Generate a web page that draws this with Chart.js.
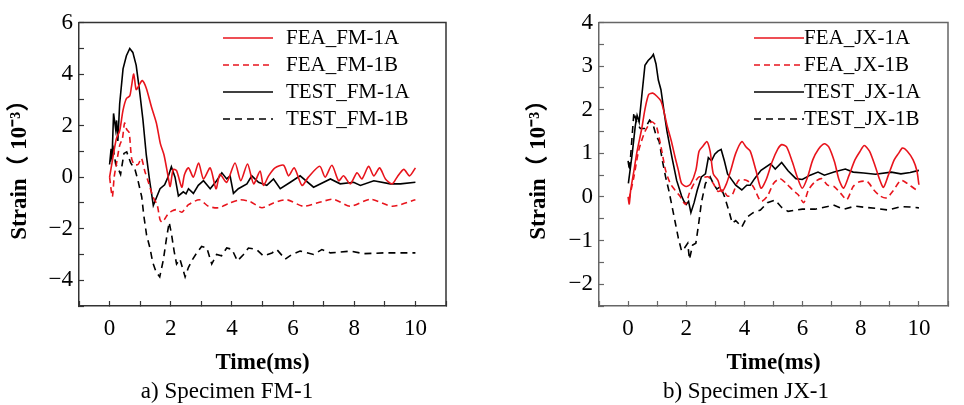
<!DOCTYPE html>
<html lang="en">
<head>
  <meta charset="UTF-8">
  <title>Strain time histories FM-1 / JX-1</title>
  <script src="https://cdn.jsdelivr.net/npm/chart.js"></script>
  <style>
    body {
      margin: 0;
      background: #ffffff;
      font-family: 'Liberation Serif', serif;
    }
    .panel {
      position: absolute;
      top: 0;
      width: 482px;
      height: 405px;
    }
    .caption {
      position: absolute;
      top: 377px;
      width: 220px;
      text-align: center;
      font-size: 23px;
      line-height: 27px;
      color: #000;
    }
  </style>
</head>
<body>
  <canvas id="chartFM" class="panel" style="left:0" width="482" height="405"></canvas>
  <canvas id="chartJX" class="panel" style="left:482px" width="482" height="405"></canvas>
  <div class="caption" style="left:117px">a) Specimen FM-1</div>
  <div class="caption" style="left:636px">b) Specimen JX-1</div>

  <script>
    // ---- Specimen FM-1 (time in ms, strain in 10^-3) ----
    const labelsFM = ['FEA_FM-1A', 'FEA_FM-1B', 'TEST_FM-1A', 'TEST_FM-1B'];

    const tFeaFM1A = [0, 0.1, 0.22, 0.33, 0.44, 0.55, 0.66, 0.71, 0.79, 0.87, 0.98, 1.07, 1.2, 1.37, 1.53, 1.66, 1.78, 1.91, 1.98, 2.08, 2.19, 2.36, 2.45, 2.58, 2.74, 2.91, 3.07, 3.29, 3.48, 3.61, 3.83, 4.1, 4.29, 4.51, 4.71, 4.92, 5.03, 5.2, 5.41, 5.69, 5.85, 6.04, 6.29, 6.5, 6.87, 7.05, 7.27, 7.49, 7.65, 7.87, 8.09, 8.25, 8.47, 8.64, 8.83, 9.02, 9.24, 9.4, 9.62, 9.81, 10];
    const vFeaFM1A = [0, 0.7, 1.48, 1.8, 2.6, 3.05, 3.15, 3.47, 4.0, 3.4, 3.6, 3.75, 3.45, 2.72, 2.1, 1.3, 0.86, 0.05, -0.36, 0.3, 0.25, -0.39, 0.1, 0.36, 0, 0.55, -0.07, 0.36, -0.45, 0.11, -0.2, 0.55, -0.14, 0.51, -0.26, 0.24, -0.32, 0.05, 0.36, 0.46, 0.05, 0.36, -0.32, 0, 0.42, 0, 0.46, -0.14, 0.05, -0.26, 0.17, -0.07, 0.42, 0.05, 0.36, -0.07, -0.26, 0, 0.3, 0.05, 0.36];

    const tFeaFM1B = [0, 0.09, 0.15, 0.22, 0.33, 0.42, 0.49, 0.56, 0.64, 0.72, 0.81, 0.93, 1.04, 1.15, 1.27, 1.42, 1.56, 1.65, 1.72, 1.8, 1.9, 2.03, 2.19, 2.36, 2.58, 2.94, 3.23, 3.56, 3.94, 4.27, 4.6, 4.98, 5.36, 5.8, 6.34, 6.94, 7.33, 7.87, 8.53, 9.24, 10];
    const vFeaFM1B = [0, -0.76, 0, 0.49, 1.23, 1.5, 2.1, 1.85, 1.73, 0.73, 0.49, 0.49, 0.73, 0.24, -0.2, -0.76, -1.1, -1.65, -1.75, -1.63, -1.45, -1.32, -1.26, -1.36, -1.07, -0.88, -1.13, -1.19, -1.0, -0.88, -0.95, -1.19, -1.0, -0.88, -1.13, -0.95, -0.86, -1.13, -0.86, -1.13, -0.88];

    const tTestFM1A = [0, 0.05, 0.08, 0.13, 0.2, 0.23, 0.27, 0.33, 0.44, 0.55, 0.66, 0.76, 0.87, 0.98, 1.09, 1.2, 1.31, 1.43, 1.53, 1.65, 1.8, 1.91, 2.02, 2.14, 2.25, 2.41, 2.5, 2.58, 2.74, 2.9, 3.07, 3.29, 3.5, 3.67, 3.83, 3.94, 4.05, 4.21, 4.49, 4.65, 4.87, 5.14, 5.36, 5.58, 5.91, 6.23, 6.67, 7.22, 7.54, 7.98, 8.2, 8.64, 9.18, 9.51, 10];
    const vTestFM1A = [0.49, 1.1, 0.7, 2.47, 1.85, 2.2, 1.4, 2.85, 4.2, 4.71, 4.99, 4.84, 4.34, 3.35, 2.23, 0.86, -0.14, -1.1, -0.8, -0.45, -0.3, 0, 0.4, 0, -0.73, -0.57, -0.65, -0.45, -0.63, -0.32, -0.14, -0.45, -0.14, 0.17, -0.07, 0.05, -0.63, -0.45, -0.26, 0.05, -0.2, -0.32, -0.07, -0.45, -0.2, 0.05, -0.39, -0.07, -0.26, -0.2, -0.32, -0.14, -0.26, -0.26, -0.2];

    const tTestFM1B = [0.03, 0.12, 0.2, 0.27, 0.36, 0.47, 0.56, 0.69, 0.83, 0.93, 1.05, 1.12, 1.21, 1.32, 1.41, 1.52, 1.64, 1.76, 1.87, 1.95, 2.03, 2.11, 2.19, 2.3, 2.47, 2.58, 2.72, 2.85, 3.01, 3.18, 3.34, 3.5, 3.66, 3.83, 4.0, 4.18, 4.38, 4.54, 4.81, 5.03, 5.31, 5.47, 5.74, 5.96, 6.23, 6.67, 6.94, 7.22, 7.87, 8.31, 8.96, 9.51, 10];
    const vTestFM1B = [0.6, 1.1, 0.5, 0.36, 0.11, 0.92, 0.98, 0.55, 0.3, -0.14, -0.76, -1.5, -2.25, -2.75, -3.3, -3.68, -3.87, -3.2, -2.3, -1.75, -2.25, -2.87, -3.37, -3.18, -3.87, -3.5, -3.18, -2.94, -2.69, -2.75, -3.37, -3.0, -3.05, -2.75, -2.8, -3.25, -3.0, -2.75, -2.81, -3.06, -2.94, -2.81, -3.18, -3.0, -2.87, -3.0, -2.81, -2.94, -2.87, -2.97, -2.94, -2.94, -2.94];

    // ---- Specimen JX-1 ----
    const labelsJX = ['FEA_JX-1A', 'FEA_JX-1B', 'TEST_JX-1A', 'TEST_JX-1B'];

    const tFeaJX1A = [0, 0.04, 0.09, 0.2, 0.31, 0.47, 0.58, 0.71, 0.85, 0.99, 1.13, 1.24, 1.34, 1.48, 1.62, 1.73, 1.84, 2.0, 2.15, 2.33, 2.44, 2.57, 2.71, 2.82, 2.93, 3.09, 3.22, 3.38, 3.53, 3.7, 3.91, 4.05, 4.2, 4.4, 4.57, 4.75, 4.95, 5.15, 5.28, 5.45, 5.65, 5.82, 5.99, 6.17, 6.35, 6.55, 6.75, 6.9, 7.1, 7.25, 7.41, 7.6, 7.8, 7.98, 8.12, 8.3, 8.5, 8.65, 8.78, 8.95, 9.15, 9.3, 9.43, 9.6, 9.8, 9.93, 10];
    const vFeaJX1A = [0, -0.16, 0.16, 0.6, 1.05, 1.57, 2.01, 2.35, 2.38, 2.31, 2.2, 1.94, 1.64, 1.3, 0.9, 0.61, 0.31, 0.24, 0.3, 0.61, 1.05, 1.16, 1.27, 1.05, 0.53, 0.38, 0.12, 0.3, 0.61, 1.0, 1.27, 1.15, 1.05, 0.6, 0.2, 0.4, 0.8, 1.1, 1.2, 1.15, 0.8, 0.45, 0.2, 0.45, 0.85, 1.1, 1.22, 1.15, 0.8, 0.4, 0.2, 0.5, 0.85, 1.05, 1.18, 1.05, 0.7, 0.4, 0.22, 0.5, 0.85, 1.0, 1.12, 1.05, 0.85, 0.6, 0.28];

    const tFeaJX1B = [0.03, 0.2, 0.36, 0.58, 0.8, 0.96, 1.07, 1.18, 1.29, 1.45, 1.62, 1.78, 1.97, 2.11, 2.27, 2.44, 2.6, 2.76, 2.93, 3.09, 3.26, 3.42, 3.58, 3.8, 4.08, 4.3, 4.57, 4.79, 5.0, 5.22, 5.44, 5.66, 5.85, 6.04, 6.2, 6.43, 6.65, 6.86, 7.08, 7.3, 7.52, 7.74, 7.96, 8.23, 8.45, 8.67, 8.89, 9.1, 9.38, 9.6, 9.92, 10];
    const vFeaJX1B = [-0.06, 0.46, 1.05, 1.5, 1.72, 1.64, 1.35, 0.98, 0.61, 0.31, 0.15, 0.02, -0.17, 0.09, 0.31, 0.46, 0.45, 0.46, 0.31, 0.13, 0.16, 0.02, 0.05, 0.38, 0.38, 0.24, -0.1, 0.02, 0.31, 0.42, 0.31, 0.16, 0.05, -0.13, 0.16, 0.35, 0.42, 0.27, 0.24, 0.09, -0.06, 0.24, 0.35, 0.35, 0.16, 0.02, -0.02, 0.13, 0.38, 0.31, 0.16, 0.18];

    const tTestJX1A = [0.01, 0.14, 0.25, 0.31, 0.38, 0.47, 0.58, 0.69, 0.8, 0.87, 0.96, 1.04, 1.13, 1.24, 1.34, 1.51, 1.67, 1.84, 1.92, 2.0, 2.08, 2.16, 2.27, 2.38, 2.52, 2.66, 2.76, 2.87, 2.98, 3.09, 3.2, 3.31, 3.42, 3.58, 3.7, 3.91, 4.08, 4.2, 4.35, 4.57, 4.9, 5.06, 5.28, 5.5, 5.77, 5.99, 6.26, 6.53, 6.75, 7.08, 7.47, 7.74, 8.1, 8.5, 9.05, 9.38, 9.7, 10];
    const vTestJX1A = [0.31, 0.98, 1.64, 1.87, 1.72, 2.31, 3.02, 3.13, 3.2, 3.27, 3.05, 2.68, 2.46, 1.94, 1.5, 0.9, 0.38, 0.02, -0.1, -0.17, -0.1, -0.36, -0.13, 0.16, 0.46, 0.53, 0.9, 0.83, 0.98, 1.05, 1.09, 0.83, 0.53, 0.38, 0.27, 0.16, 0.27, 0.27, 0.42, 0.61, 0.76, 0.64, 0.79, 0.6, 0.42, 0.4, 0.5, 0.57, 0.5, 0.57, 0.64, 0.57, 0.55, 0.52, 0.57, 0.53, 0.56, 0.61];

    const tTestJX1B = [0, 0.05, 0.2, 0.3, 0.42, 0.58, 0.74, 0.85, 0.96, 1.07, 1.18, 1.29, 1.4, 1.51, 1.62, 1.73, 1.84, 1.94, 2.05, 2.11, 2.22, 2.33, 2.42, 2.52, 2.66, 2.82, 2.93, 3.05, 3.18, 3.31, 3.48, 3.58, 3.7, 3.91, 4.08, 4.3, 4.55, 4.79, 5.06, 5.28, 5.5, 5.99, 6.43, 6.86, 7.05, 7.41, 7.81, 8.17, 8.5, 8.94, 9.38, 9.7, 10];
    const vTestJX1B = [0.83, 0.6, 1.94, 1.7, 1.57, 1.57, 1.76, 1.68, 1.42, 1.27, 0.83, 0.46, 0.15, -0.21, -0.58, -0.95, -1.24, -1.17, -1.06, -1.43, -1.1, -1.06, -0.65, -0.13, 0.31, 0.46, 0.31, 0.18, 0.24, 0.02, -0.35, -0.6, -0.54, -0.69, -0.47, -0.36, -0.3, -0.13, -0.07, -0.24, -0.33, -0.28, -0.28, -0.22, -0.18, -0.28, -0.21, -0.24, -0.26, -0.3, -0.22, -0.23, -0.25];

    const RED = '#e8141c';
    const BLACK = '#000000';
    const SERIF = "'Liberation Serif', 'Noto Sans CJK SC', serif";

    function pts(t, v) {
      return t.map((x, i) => ({ x: x, y: v[i] }));
    }

    function series(label, t, v, color, dash, tension) {
      return {
        label: label,
        data: pts(t, v),
        borderColor: color,
        backgroundColor: color,
        borderWidth: 1.6,
        borderDash: dash,
        pointRadius: 0,
        tension: tension,
        fill: false
      };
    }

    function fmt(v) {
      return v < 0 ? '\u2212' + Math.abs(v) : String(v);
    }

    // top + right frame lines and an in-plot legend
    const frameLegend = {
      id: 'frameLegend',
      afterDraw(chart, args, o) {
        const ctx = chart.ctx;
        const a = chart.chartArea;
        ctx.save();
        ctx.strokeStyle = o.frameColor;
        ctx.lineWidth = 1.5;
        ctx.beginPath();
        ctx.moveTo(a.left, a.top);
        ctx.lineTo(a.right, a.top);
        ctx.lineTo(a.right, a.bottom);
        ctx.stroke();

        chart.data.datasets.forEach((ds, i) => {
          const y = o.top + i * o.rowGap;
          ctx.strokeStyle = ds.borderColor;
          ctx.lineWidth = ds.borderWidth;
          ctx.setLineDash(ds.borderDash || []);
          ctx.beginPath();
          ctx.moveTo(o.lineX, y);
          ctx.lineTo(o.lineX + o.lineLen, y);
          ctx.stroke();
          ctx.setLineDash([]);
          ctx.fillStyle = '#000';
          ctx.font = '21px ' + SERIF;
          ctx.textAlign = 'left';
          ctx.textBaseline = 'middle';
          ctx.fillText(ds.label, o.textX, y);
        });
        ctx.restore();
      }
    };

    function makeChart(id, datasets, cfg) {
      const tickFont = { family: SERIF, size: 23, lineHeight: 1 };
      const titleFont = { family: SERIF, size: 23, weight: 'bold' };
      return new Chart(document.getElementById(id), {
        type: 'line',
        data: { datasets: datasets },
        plugins: [frameLegend],
        options: {
          responsive: false,
          animation: false,
          devicePixelRatio: 1,
          layout: { padding: cfg.padding },
          plugins: {
            legend: { display: false },
            tooltip: { enabled: false },
            frameLegend: cfg.legend
          },
          scales: {
            x: {
              type: 'linear',
              min: -1,
              max: 11,
              border: { color: cfg.axisColor, width: 1.5 },
              grid: { drawOnChartArea: false, tickLength: -5, color: cfg.axisColor, tickWidth: 1.2 },
              ticks: {
                stepSize: 1,
                autoSkip: false,
                maxRotation: 0,
                padding: 16,
                color: '#000',
                font: tickFont,
                callback: v => (v >= 0 && v <= 10 && v % 2 === 0) ? fmt(v) : ''
              },
              title: { display: true, text: 'Time(ms)', color: '#000', font: titleFont, padding: { top: 0, bottom: 28 } },
              afterFit: s => { s.height = 99; }
            },
            y: {
              min: cfg.yMin,
              max: cfg.yMax,
              border: { color: cfg.axisColor, width: 1.5 },
              grid: { drawOnChartArea: false, tickLength: -5, color: cfg.axisColor, tickWidth: 1.2 },
              ticks: {
                stepSize: cfg.yStep,
                autoSkip: false,
                padding: 11,
                color: '#000',
                font: tickFont,
                callback: v => cfg.yLabel(v) ? fmt(v) : ''
              },
              title: { display: true, text: 'Strain（ 10⁻³）', color: '#000', font: titleFont, padding: { top: cfg.yTitlePad, bottom: 0 } },
              afterFit: s => { s.width = cfg.yWidth; }
            }
          }
        }
      });
    }

    makeChart('chartFM', [
      series(labelsFM[0], tFeaFM1A, vFeaFM1A, RED, [], 0.25),
      series(labelsFM[1], tFeaFM1B, vFeaFM1B, RED, [6, 4], 0.25),
      series(labelsFM[2], tTestFM1A, vTestFM1A, BLACK, [], 0),
      series(labelsFM[3], tTestFM1B, vTestFM1B, BLACK, [7, 5], 0)
    ], {
      padding: { top: 12, right: 36, bottom: 0, left: 0 },
      axisColor: '#333333',
      yMin: -5, yMax: 6, yStep: 1,
      yLabel: v => v % 2 === 0,
      yWidth: 79,
      yTitlePad: 6,
      legend: { frameColor: '#333333', lineX: 223, lineLen: 50, textX: 286, top: 38, rowGap: 27 }
    });

    makeChart('chartJX', [
      series(labelsJX[0], tFeaJX1A, vFeaJX1A, RED, [], 0.25),
      series(labelsJX[1], tFeaJX1B, vFeaJX1B, RED, [6, 4], 0.25),
      series(labelsJX[2], tTestJX1A, vTestJX1A, BLACK, [], 0),
      series(labelsJX[3], tTestJX1B, vTestJX1B, BLACK, [7, 5], 0)
    ], {
      padding: { top: 12, right: 0, bottom: 0, left: 0 },
      axisColor: '#666666',
      yMin: -2.5, yMax: 4, yStep: 0.5,
      yLabel: v => Number.isInteger(v),
      yWidth: 117,
      yTitlePad: 43,
      legend: { frameColor: '#666666', lineX: 272, lineLen: 50, textX: 322, top: 38, rowGap: 27 }
    });
  </script>
</body>
</html>
